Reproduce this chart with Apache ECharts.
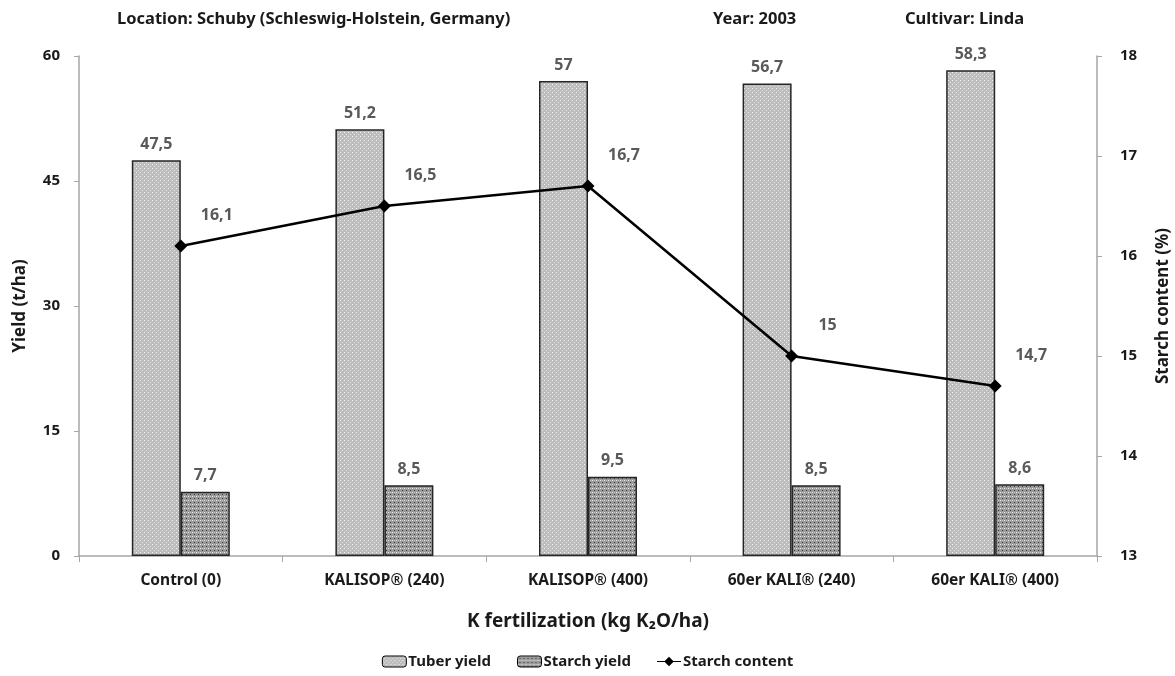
<!DOCTYPE html>
<html>
<head>
<meta charset="utf-8">
<script src="https://cdn.jsdelivr.net/npm/echarts@6/dist/echarts.min.js"></script>
<style>
  html, body { margin: 0; padding: 0; background: #fff; }
  #chart { width: 1175px; height: 676px; }
</style>
</head>
<body>
<div id="chart"></div>
<script>
const categories = ['Control (0)', 'KALISOP® (240)', 'KALISOP® (400)', '60er KALI® (240)', '60er KALI® (400)'];
const tuberYield = [47.5, 51.2, 57, 56.7, 58.3];
const starchYield = [7.7, 8.5, 9.5, 8.5, 8.6];
const starchContent = [16.1, 16.5, 16.7, 15, 14.7];
const yieldTicks = [0, 15, 30, 45, 60];
const contentTicks = [13, 14, 15, 16, 17, 18];

const font = '"Noto Sans", "DejaVu Sans", sans-serif';

// little dotted fills, like the excel pattern swatches
function makePattern(base, dots) {
    let c = document.createElement('canvas');
    c.width = 4;
    c.height = 4;
    let ctx = c.getContext('2d');
    ctx.fillStyle = base;
    ctx.fillRect(0, 0, 4, 4);
    dots.forEach(d => {
        ctx.fillStyle = d[2];
        ctx.fillRect(d[0], d[1], 1, 1);
    });
    return { image: c, repeat: 'repeat' };
}

const tuberFill = makePattern('#bdbdbd', [[0, 0, '#f4f4f4'], [2, 2, '#e6e6e6']]);
const starchFill = makePattern('#9a9a9a', [[0, 0, '#ececec'], [2, 2, '#3c3c3c'], [2, 0, '#c8c8c8']]);

const fmt = v => String(v).replace('.', ',');

const labelStyle = {
    color: '#595959',
    fontFamily: font,
    fontWeight: 'bold',
    fontSize: 16
};
const axisText = { fontFamily: font, fontWeight: 'bold', color: '#1a1a1a' };

const chart = echarts.init(document.getElementById('chart'));

const option = {
    animation: false,
    title: [
        { text: 'Location: Schuby (Schleswig-Holstein, Germany)', left: 112, top: 6 },
        { text: 'Year: 2003', left: 708, top: 6 },
        { text: 'Cultivar: Linda', left: 900, top: 6 }
    ].map(t => Object.assign(t, {
        textStyle: Object.assign({ fontSize: 16.5 }, axisText)
    })),
    legend: {
        bottom: 2,
        left: 'center',
        itemWidth: 24,
        itemHeight: 11,
        itemGap: 26,
        textStyle: Object.assign({ fontSize: 15, padding: [0, 0, 0, -3] }, axisText),
        data: [
            { name: 'Tuber yield', itemStyle: { borderColor: '#000', borderWidth: 1 } },
            { name: 'Starch yield', itemStyle: { borderColor: '#000', borderWidth: 1 } },
            { name: 'Starch content', icon: 'path://M0,5 L9,5 L14,0 L19,5 L28,5 L28,6 L19,6 L14,11 L9,6 L0,6 Z', itemStyle: { color: '#000' } }
        ]
    },
    grid: { left: 79, right: 78, top: 56, bottom: 120, outerBoundsMode: 'none' },
    xAxis: {
        type: 'category',
        data: categories,
        name: 'K fertilization (kg K₂O/ha)',
        nameLocation: 'middle',
        nameGap: 56,
        nameTextStyle: Object.assign({ fontSize: 19 }, axisText),
        axisLine: { lineStyle: { color: '#a6a6a6', width: 1.5 } },
        axisTick: { show: true, length: 6, lineStyle: { color: '#a6a6a6' } },
        axisLabel: Object.assign({ margin: 17, fontSize: 15.5 }, axisText)
    },
    yAxis: [
        {
            type: 'value',
            min: 0,
            max: 60,
            interval: 15,
            name: 'Yield (t/ha)',
            nameLocation: 'middle',
            nameGap: 50,
            nameTextStyle: Object.assign({ fontSize: 17 }, axisText),
            axisLine: { show: true, lineStyle: { color: '#a6a6a6', width: 1.5 } },
            axisTick: { show: true, length: 5, lineStyle: { color: '#a6a6a6' } },
            splitLine: { show: false },
            axisLabel: Object.assign({
                margin: 19,
                fontSize: 15,
                formatter: v => yieldTicks.includes(v) ? String(v) : ''
            }, axisText)
        },
        {
            type: 'value',
            min: 13,
            max: 18,
            interval: 1,
            name: 'Starch content (%)',
            nameLocation: 'middle',
            nameGap: 58,
            nameRotate: 90,
            nameTextStyle: Object.assign({ fontSize: 17 }, axisText),
            axisLine: { show: true, lineStyle: { color: '#a6a6a6', width: 1.5 } },
            axisTick: { show: true, length: 5, lineStyle: { color: '#a6a6a6' } },
            splitLine: { show: false },
            axisLabel: Object.assign({
                margin: 23,
                fontSize: 15,
                formatter: v => contentTicks.includes(v) ? String(v) : ''
            }, axisText)
        }
    ],
    series: [
        {
            name: 'Tuber yield',
            type: 'bar',
            data: tuberYield,
            barWidth: 49,
            barGap: '0%',
            itemStyle: { color: tuberFill, borderColor: '#262626', borderWidth: 1.5 },
            label: Object.assign({ show: true, position: 'top', distance: 8, formatter: p => fmt(p.value) }, labelStyle)
        },
        {
            name: 'Starch yield',
            type: 'bar',
            data: starchYield,
            barWidth: 49,
            barGap: '0%',
            itemStyle: { color: starchFill, borderColor: '#262626', borderWidth: 1.5 },
            label: Object.assign({ show: true, position: 'top', distance: 8, formatter: p => fmt(p.value) }, labelStyle)
        },
        {
            name: 'Starch content',
            type: 'line',
            yAxisIndex: 1,
            data: starchContent,
            symbol: 'diamond',
            symbolSize: 13,
            lineStyle: { color: '#000', width: 2.5 },
            itemStyle: { color: '#000' },
            label: Object.assign({ show: true, position: 'inside', offset: [36, -31], formatter: p => fmt(p.value) }, labelStyle)
        }
    ]
};

chart.setOption(option);
</script>
</body>
</html>
